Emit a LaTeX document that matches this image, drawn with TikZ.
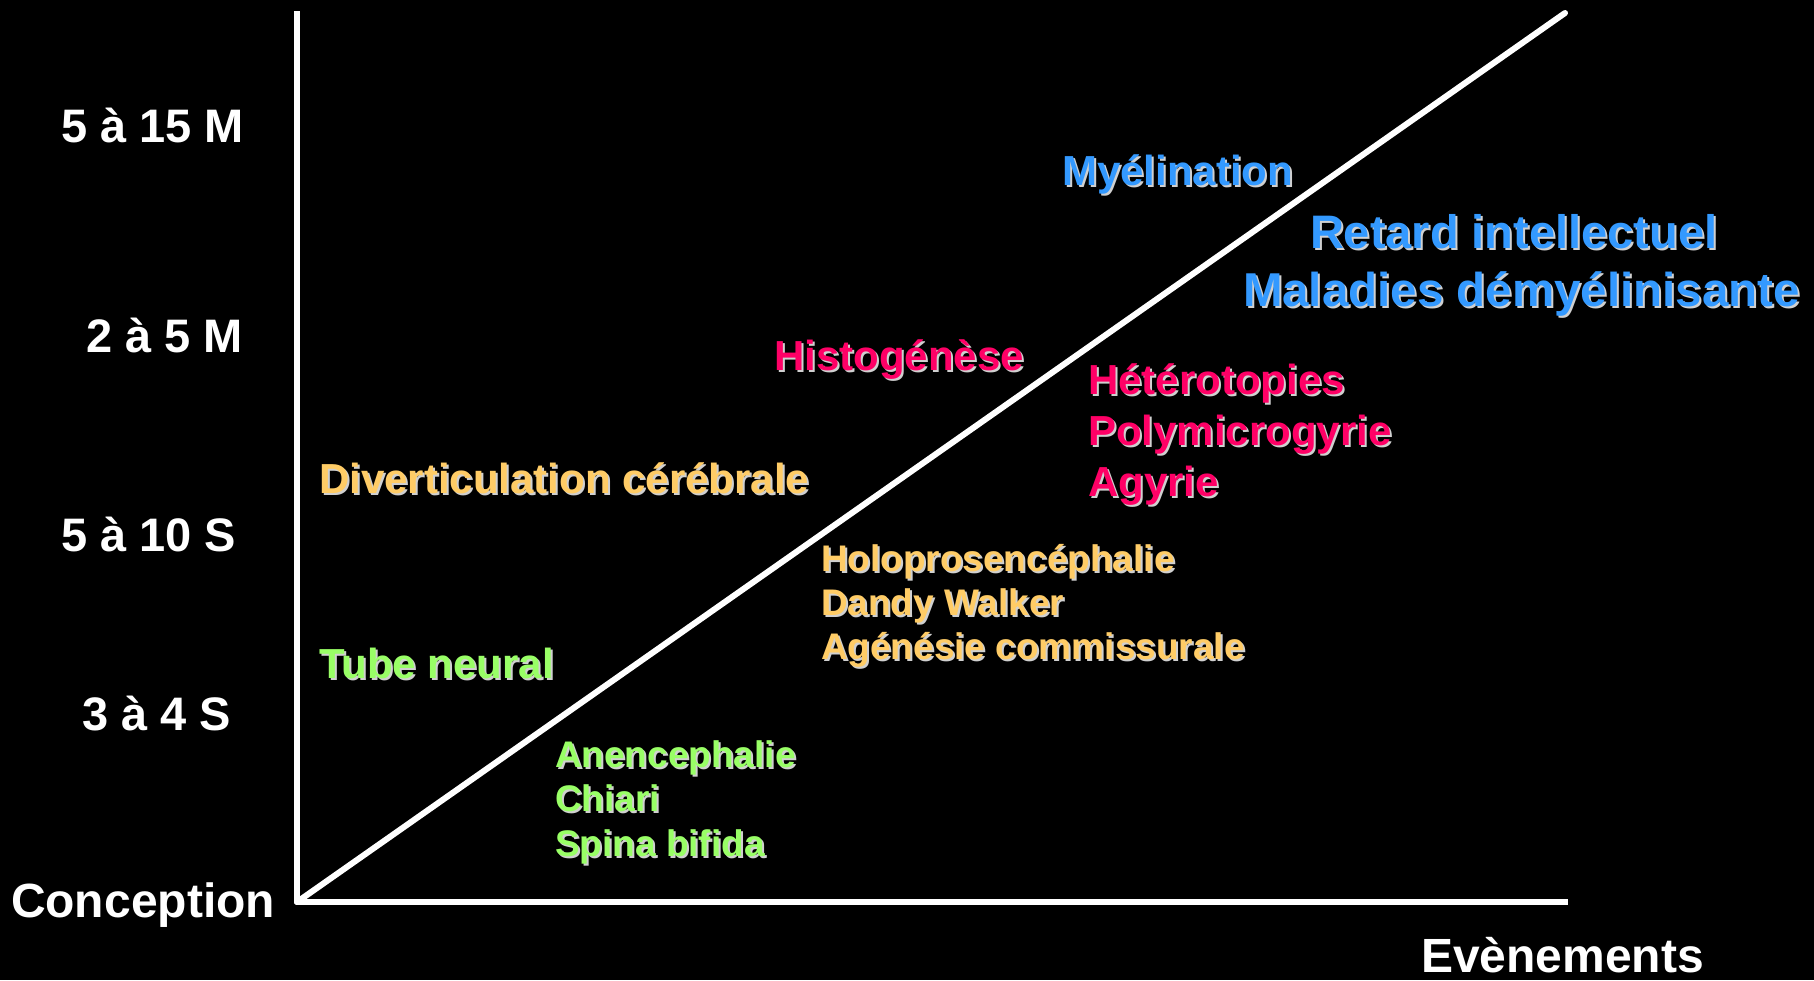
\documentclass[tikz,border=0pt]{standalone}
\usepackage{fontspec}
\setmainfont{Liberation Sans}
\definecolor{cblue}{HTML}{3399FF}
\definecolor{cpink}{HTML}{FF0066}
\definecolor{corange}{HTML}{FFCC66}
\definecolor{cgreen}{HTML}{99FF66}
\definecolor{cshadow}{HTML}{D0D0D0}
\tikzset{
  lbl/.style={anchor=base west, inner sep=0pt, outer sep=0pt},
  axisline/.style={draw=white, line width=6pt, line join=round},
}
% name, x, y, colour, size, text
\newcommand{\slabel}[6]{%
  \node[lbl, text=cshadow, font={\bfseries\fontsize{#5}{#5}\selectfont}] at (#2+2,#3+2) {#6};
  \node[lbl, text=#4, font={\bfseries\fontsize{#5}{#5}\selectfont}] (#1) at (#2,#3) {#6};
}
\newcommand{\wlabel}[5]{%
  \node[lbl, text=white, font={\bfseries\fontsize{#4}{#4}\selectfont}] (#1) at (#2,#3) {#5};
}
\begin{document}
\begin{tikzpicture}[x=1pt,y=-1pt]
\fill[black] (0,0) rectangle (1814,980);
\useasboundingbox (0,0) rectangle (1814,980);

\coordinate (O) at (297,902);
\coordinate (Ytop) at (297,11);
\coordinate (Xend) at (1568,902);
\coordinate (Dend) at (1565,13);

\draw[axisline] (Ytop) -- (O) -- (Xend);
\draw[axisline, line cap=round] (O) -- (Dend);

\wlabel{l15m}{61}{142}{47}{5 à 15 M}
\wlabel{l5m}{86}{352}{47}{2 à 5 M}
\wlabel{l10s}{61}{551}{47}{5 à 10 S}
\wlabel{l4s}{82}{730}{47}{3 à 4 S}
\wlabel{conc}{11}{917}{48}{Conception}
\wlabel{even}{1421}{972}{48}{Evènements}

\slabel{myel}{1062}{185}{cblue}{42}{Myélination}
\slabel{ret}{1310}{248}{cblue}{47}{Retard intellectuel}
\slabel{mal}{1243}{306}{cblue}{47.5}{Maladies démyélinisante}

\slabel{hist}{774}{370}{cpink}{42}{Histogénèse}
\slabel{het}{1088}{394}{cpink}{42}{Hétérotopies}
\slabel{poly}{1088}{445}{cpink}{42}{Polymicrogyrie}
\slabel{agy}{1088}{496}{cpink}{42}{Agyrie}

\slabel{div}{319}{493}{corange}{42}{Diverticulation cérébrale}
\slabel{holo}{821}{571}{corange}{37}{Holoprosencéphalie}
\slabel{dandy}{821}{615}{corange}{37}{Dandy Walker}
\slabel{agen}{821}{659}{corange}{37}{Agénésie commissurale}

\slabel{tube}{319}{678}{cgreen}{42}{Tube neural}
\slabel{anen}{555}{767}{cgreen}{37}{Anencephalie}
\slabel{chia}{555}{811}{cgreen}{37}{Chiari}
\slabel{spina}{555}{856}{cgreen}{37}{Spina bifida}
\end{tikzpicture}
\end{document}
